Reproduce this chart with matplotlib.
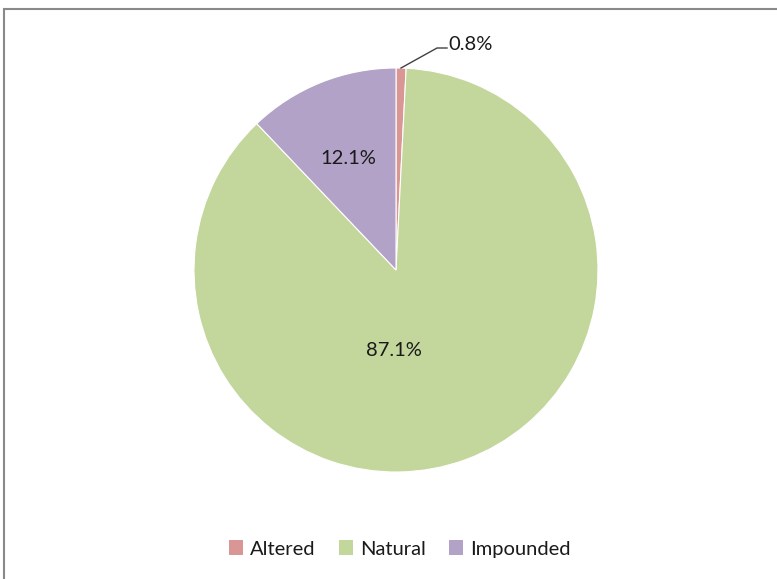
import matplotlib
matplotlib.use('Agg')
import matplotlib.pyplot as plt
from matplotlib.patches import Rectangle, Patch

categories = ['Altered', 'Natural', 'Impounded']
shares = [0.8, 87.1, 12.1]
colors = ['#D99694', '#C3D69B', '#B3A2C7']

W, H = 777, 579
plt.rcParams['font.family'] = ['Lato', 'DejaVu Sans']

fig = plt.figure(figsize=(W / 100, H / 100), dpi=100)
fig.patch.set_facecolor('white')

# outer chart border (right/bottom edges fall off the image)
fig.patches.append(Rectangle((3.5 / W, -0.1), 1.2, 1 - 9.5 / H + 0.1,
                             transform=fig.transFigure, fill=False,
                             edgecolor='#898989', linewidth=1.5))

cx, cy, r = 396, 270, 202
ax = fig.add_axes([(cx - r) / W, (H - cy - r) / H, 2 * r / W, 2 * r / H])

wedges, _ = ax.pie(shares, colors=colors, startangle=90, counterclock=False,
                   radius=1, wedgeprops=dict(edgecolor='white', linewidth=0.8))
# pie() resets the limits, so set them afterwards
ax.set_xlim(-1, 1)
ax.set_ylim(-1, 1)
ax.set_aspect('equal')
ax.axis('off')

def to_data(px, py):
    return (px - cx) / r, (cy - py) / r

fs = 14.5
x, y = to_data(394, 350)
ax.text(x, y, f'{shares[1]:.1f}%', ha='center', va='center', fontsize=fs, color='#1a1a1a')
x, y = to_data(348, 158)
ax.text(x, y, f'{shares[2]:.1f}%', ha='center', va='center', fontsize=fs, color='#1a1a1a')

# leader for the small slice
p0 = to_data(401, 68)
p1 = to_data(437, 48)
p2 = to_data(447, 48)
ax.plot([p0[0], p1[0], p2[0]], [p0[1], p1[1], p2[1]], color='#404040', lw=1,
        clip_on=False)
x, y = to_data(448, 45)
ax.text(x, y, f'{shares[0]:.1f}%', ha='left', va='center', fontsize=fs,
        color='#1a1a1a', clip_on=False)

handles = [Patch(facecolor=c, edgecolor='none') for c in colors]
fig.legend(handles, categories, loc='center', bbox_to_anchor=(400 / W, 1 - 549 / H),
           ncol=3, frameon=False, fontsize=fs, handlelength=0.7, handleheight=0.7,
           handletextpad=0.35, columnspacing=1.15, labelcolor='#1a1a1a')

fig.savefig('out.png', dpi=100, facecolor='white')
